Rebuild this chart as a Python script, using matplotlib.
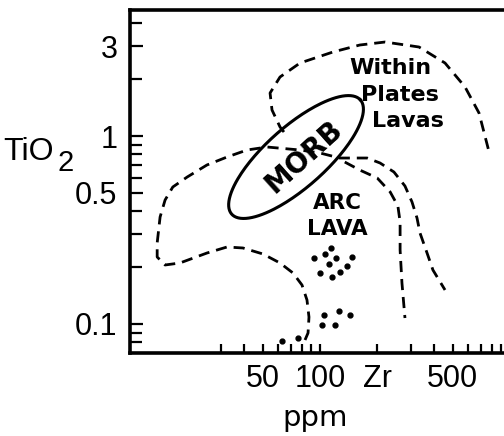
import matplotlib
matplotlib.use("Agg")
import matplotlib.pyplot as plt
import numpy as np

# Within plate lavas field (dashed)
wpl_zr = [64.6, 61.6, 55.9, 54.6, 61.6, 78.5, 117, 162, 220, 332, 455, 580, 687, 776]
wpl_ti = [1.05, 1.117, 1.375, 1.693, 2.06, 2.445, 2.798, 3.048, 3.162, 2.974, 2.445, 1.823, 1.325, 0.822]

# Arc lava field, outer line (dashed)
arc_zr = [83.4, 86.5, 87.5, 85.4, 80.4, 72.1, 61.6, 50.1, 39.3, 32.4, 25.4, 18.3, 15.3, 13.9,
          13.9, 14.4, 15.3, 16.8, 20.0, 25.4, 32.4, 41.3, 52.6, 78.5, 100, 127, 153, 177,
          207, 245, 280, 305, 324, 336, 366, 393, 455]
arc_ti = [0.0822, 0.0896, 0.1089, 0.1342, 0.1612, 0.1867, 0.2111, 0.2357, 0.2537, 0.2568,
          0.2385, 0.2111, 0.206, 0.2272, 0.2697, 0.3708, 0.4566, 0.5355, 0.6051, 0.7011,
          0.7729, 0.8424, 0.8739, 0.8424, 0.8121, 0.7636, 0.7636, 0.7636, 0.7185, 0.6434,
          0.542, 0.4455, 0.3664, 0.3048, 0.2385, 0.1937, 0.1517]

# inner line
inn_zr = [135, 162, 200, 234, 257, 264, 264, 270, 280]
inn_ti = [0.727, 0.659, 0.598, 0.504, 0.4243, 0.3487, 0.2474, 0.1652, 0.1076]

# dots
dot_zr = [114, 106, 93, 121, 147, 111, 139, 127, 100, 116, 105, 126, 144, 120, 102, 63, 77]
dot_ti = [0.2537, 0.2357, 0.2244, 0.2244, 0.2272, 0.2085, 0.2035, 0.1891, 0.1867, 0.1778,
          0.1116, 0.1172, 0.1116, 0.0988, 0.0988, 0.0812, 0.0842]

# MORB ellipse (log space): centre, semi axes in decades, angle
morb_centre = (74.8, 0.773)
morb_a, morb_b, morb_ang = 0.455, 0.16, 42

x_major = [50, 100, 200, 500]
x_labels = ["50", "100", "Zr", "500"]
x_minor = [30, 40, 60, 70, 80, 90, 300, 400, 600, 700, 800, 900]
y_major = [0.1, 0.5, 1, 3]
y_labels = ["0.1", "0.5", "1", "3"]
y_minor = [0.08, 0.09, 0.2, 0.3, 0.4, 0.6, 0.7, 0.8, 0.9, 2, 4]

fig = plt.figure(figsize=(5.04, 4.36), dpi=100)
ax = fig.add_axes([130/504, 83/436, 380/504, 343/436])
ax.set_xscale("log")
ax.set_yscale("log")
ax.set_xlim(10, 1000)
ax.set_ylim(0.0701, 4.68)

dash = dict(color="black", lw=2.0, dashes=(4, 2.5))
ax.plot(wpl_zr, wpl_ti, **dash)
ax.plot(arc_zr, arc_ti, **dash)
ax.plot(inn_zr, inn_ti, **dash)
ax.plot(dot_zr, dot_ti, "o", color="black", ms=3.5)

# ellipse
t = np.linspace(0, 2*np.pi, 200)
th = np.radians(morb_ang)
lx = np.log10(morb_centre[0]) + morb_a*np.cos(t)*np.cos(th) - morb_b*np.sin(t)*np.sin(th)
ly = np.log10(morb_centre[1]) + morb_a*np.cos(t)*np.sin(th) + morb_b*np.sin(t)*np.cos(th)
ax.plot(10**lx, 10**ly, color="black", lw=2.2)

# text
ax.text(82.4, 0.773, "MORB", rotation=42, fontsize=20, fontweight="bold", ha="center",
        va="center", rotation_mode="anchor")
ax.text(236, 2.30, "Within", fontsize=16, fontweight="bold", ha="center", va="center")
ax.text(264, 1.652, "Plates", fontsize=16, fontweight="bold", ha="center", va="center")
ax.text(290, 1.202, "Lavas", fontsize=16, fontweight="bold", ha="center", va="center")
ax.text(123, 0.44, "ARC", fontsize=15.5, fontweight="bold", ha="center", va="center")
ax.text(124, 0.32, "LAVA", fontsize=15.5, fontweight="bold", ha="center", va="center")

# axes styling
ax.spines["right"].set_visible(False)
for s in ["left", "bottom", "top"]:
    ax.spines[s].set_linewidth(2.6)

ax.set_xticks(x_major, x_labels)
ax.set_xticks(x_minor, minor=True)
ax.set_yticks(y_major, y_labels)
ax.set_yticks(y_minor, minor=True)
ax.xaxis.set_minor_formatter(matplotlib.ticker.NullFormatter())
ax.yaxis.set_minor_formatter(matplotlib.ticker.NullFormatter())
ax.tick_params(which="both", direction="in", top=False, right=False, width=1.6)
ax.tick_params(axis="x", which="both", length=6.5, pad=8)
ax.tick_params(axis="y", which="major", length=9.5, pad=9)
ax.tick_params(axis="y", which="minor", length=8.5)
for lab in ax.get_xticklabels() + ax.get_yticklabels():
    lab.set_family("Liberation Sans")
    lab.set_fontsize(22)

fig.text(3/504, 1 - 152/436, "TiO", fontsize=23, family="Liberation Sans", ha="left", va="center")
fig.text(66/504, 1 - 163/436, "2", fontsize=21, family="Liberation Sans", ha="center", va="center")
fig.text(315/504, 1 - 418/436, "ppm", fontsize=21, ha="center", va="center")

fig.savefig("out.png", dpi=100)
